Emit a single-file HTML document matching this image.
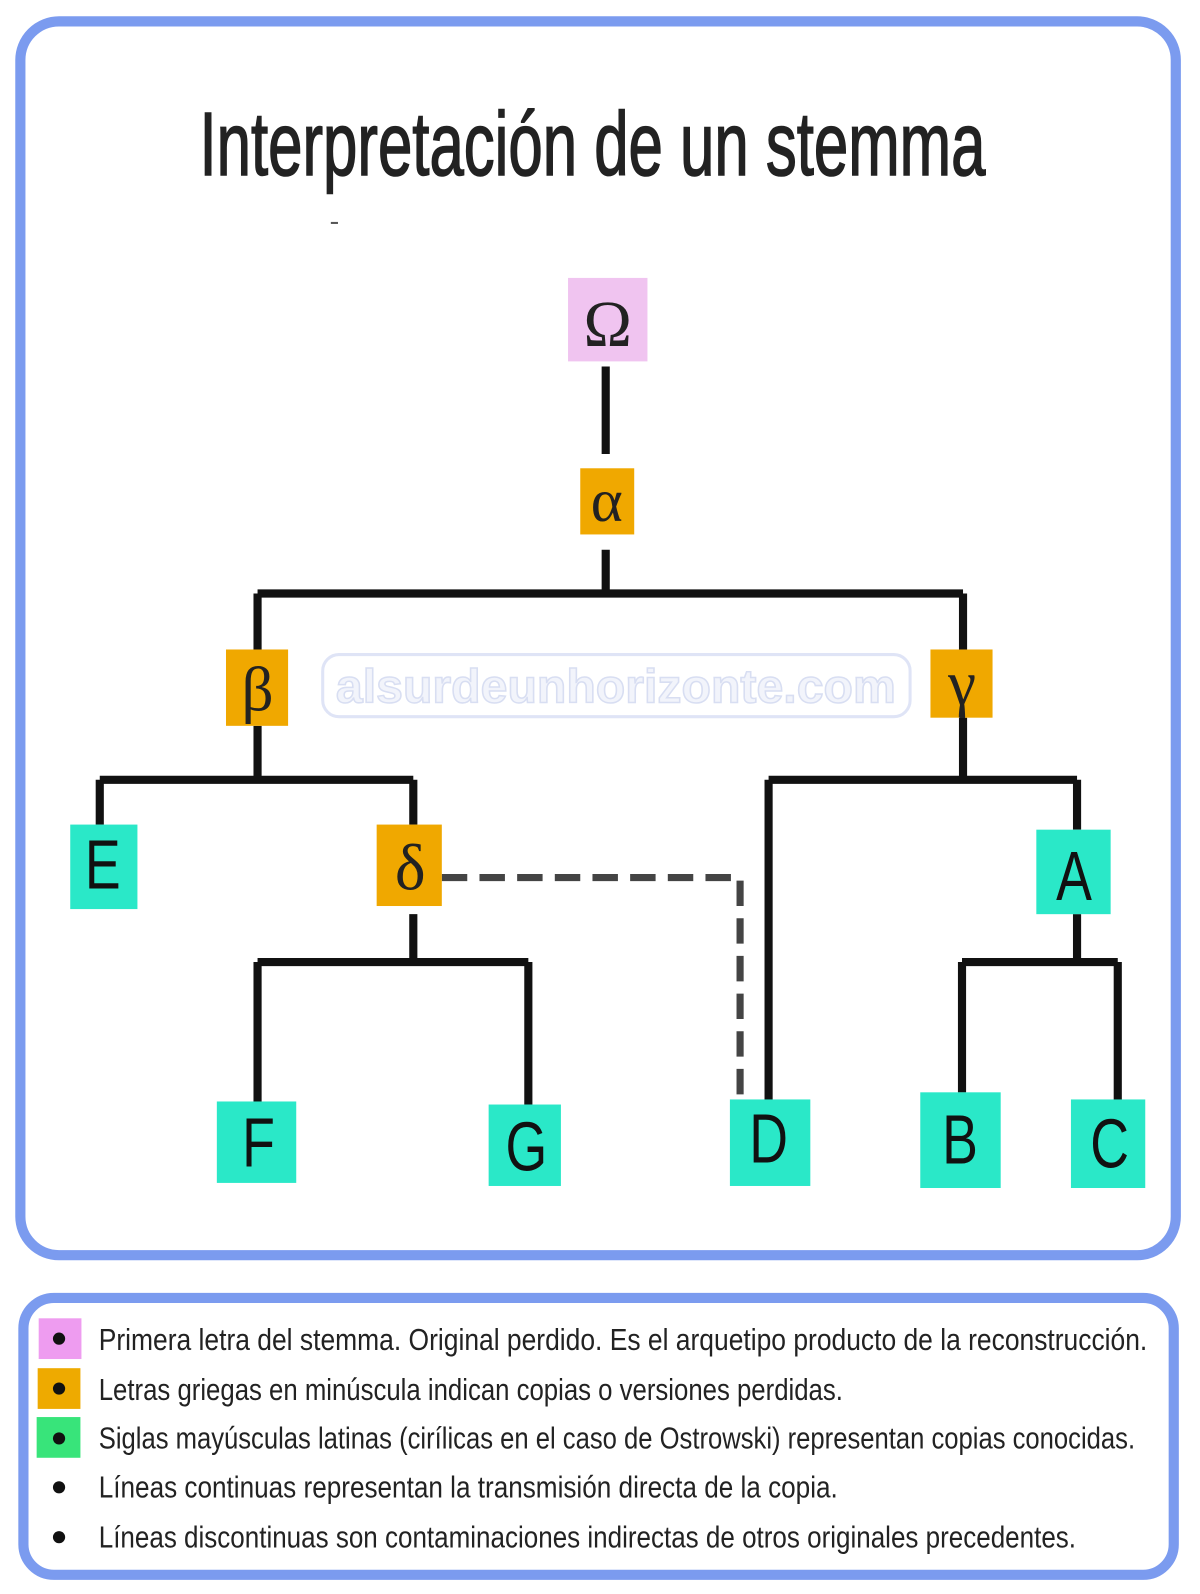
<!DOCTYPE html>
<html><head><meta charset="utf-8"><style>html,body{margin:0;padding:0;background:#fff}svg{display:block}</style></head>
<body>
<svg width="1200" height="1594" viewBox="0 0 1200 1594" xmlns="http://www.w3.org/2000/svg" font-family="'Liberation Sans Narrow','Liberation Sans',sans-serif">
<g transform="scale(1.018)">
<rect x="20" y="21" width="1135" height="1212" rx="38" fill="#fff" stroke="#7b9bef" stroke-width="10"/>
<rect x="23" y="1275" width="1130" height="272" rx="30" fill="#fff" stroke="#7b9bef" stroke-width="10"/>
<text x="196" y="172" font-size="88" fill="#222" stroke="#222" stroke-width="1.5" textLength="772" lengthAdjust="spacingAndGlyphs">Interpretación de un stemma</text>
<rect x="325" y="218" width="7" height="2" fill="#555"/>
<rect x="317" y="643" width="577" height="61" rx="16" fill="none" stroke="#dfe4f6" stroke-width="3"/>
<text x="605" y="690" font-family="'Liberation Sans',sans-serif" font-weight="bold" font-size="46" fill="#f2f4fb" stroke="#d8def2" stroke-width="1.5" text-anchor="middle" textLength="550" lengthAdjust="spacingAndGlyphs">alsurdeunhorizonte.com</text>
<g stroke="#111" stroke-width="8" fill="none">
<path d="M595 360V446"/>
<path d="M595 540V583M253 583H946M253 583V638M946 583V638"/>
<path d="M253 713V766M98 766H406M98 766V810M406 766V810"/>
<path d="M946 705V766M755 766H1058M755 766V1080M1058 766V815"/>
<path d="M406 898V945M253 945H519M253 945V1082M519 945V1085"/>
<path d="M1058 898V945M945 945H1098M945 945V1073M1098 945V1080"/>
</g>
<path d="M434 862H727V1075" stroke="#444" stroke-width="7" fill="none" stroke-dasharray="25 12"/>
<g font-family="'Liberation Serif',serif" text-anchor="middle" fill="#222">
<rect x="558" y="273" width="78" height="82" fill="#f0c4f0"/><text x="597" y="340" font-size="64">Ω</text>
<rect x="570" y="460" width="53" height="65" fill="#f0a800"/><text x="596" y="512" font-size="60">α</text>
<rect x="222" y="638" width="61" height="75" fill="#f0a800"/><text x="253" y="698" font-size="62">β</text>
<rect x="914" y="638" width="61" height="67" fill="#f0a800"/><text x="945" y="692" font-size="62">γ</text>
<rect x="370" y="810" width="64" height="80" fill="#f0a800"/><text x="403" y="874" font-size="64">δ</text>
</g>
<rect x="69" y="810" width="66" height="83" fill="#2ae8c8"/>
<rect x="1018" y="815" width="73" height="83" fill="#2ae8c8"/>
<rect x="213" y="1082" width="78" height="80" fill="#2ae8c8"/>
<rect x="480" y="1085" width="71" height="80" fill="#2ae8c8"/>
<rect x="717" y="1080" width="79" height="85" fill="#2ae8c8"/>
<rect x="904" y="1073" width="79" height="94" fill="#2ae8c8"/>
<rect x="1052" y="1080" width="73" height="87" fill="#2ae8c8"/>
<g font-family="'Liberation Sans',sans-serif" text-anchor="middle" fill="#111" font-size="62">
<text transform="translate(101 873) scale(0.85 1.1)">E</text>
<text transform="translate(1055 884) scale(0.85 1.1)">A</text>
<text transform="translate(254 1146) scale(0.85 1.1)">F</text>
<text transform="translate(517 1150) scale(0.85 1.1)">G</text>
<text transform="translate(755 1142) scale(0.85 1.1)">D</text>
<text transform="translate(943 1143) scale(0.85 1.1)">B</text>
<text transform="translate(1090 1147) scale(0.85 1.1)">C</text>
</g>
<rect x="38" y="1295" width="42" height="40" fill="#ee9cf0"/>
<rect x="37" y="1344" width="42" height="40" fill="#eeaa00"/>
<rect x="36" y="1392" width="43" height="40" fill="#38e47a"/>
<g fill="#111">
<circle cx="58" cy="1315" r="6"/><circle cx="58" cy="1364" r="6"/><circle cx="58" cy="1413" r="6"/><circle cx="58" cy="1461" r="6"/><circle cx="58" cy="1510" r="6"/>
</g>
<g font-size="30" fill="#222">
<text x="97" y="1326" textLength="1030" lengthAdjust="spacingAndGlyphs">Primera letra del stemma. Original perdido. Es el arquetipo producto de la reconstrucción.</text>
<text x="97" y="1375" textLength="731" lengthAdjust="spacingAndGlyphs">Letras griegas en minúscula indican copias o versiones perdidas.</text>
<text x="97" y="1423" textLength="1018" lengthAdjust="spacingAndGlyphs">Siglas mayúsculas latinas (cirílicas en el caso de Ostrowski) representan copias conocidas.</text>
<text x="97" y="1471" textLength="726" lengthAdjust="spacingAndGlyphs">Líneas continuas representan la transmisión directa de la copia.</text>
<text x="97" y="1520" textLength="960" lengthAdjust="spacingAndGlyphs">Líneas discontinuas son contaminaciones indirectas de otros originales precedentes.</text>
</g>
</g>
</svg>
</body></html>
